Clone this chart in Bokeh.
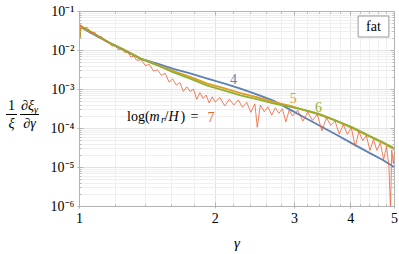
from bokeh.plotting import figure
from bokeh.layouts import row
from bokeh.models import FixedTicker, CustomJSTickFormatter, LogAxis, Label, Range1d, Div
from bokeh.embed import file_html
from bokeh.resources import INLINE

# ---------------- data ----------------
gamma_smooth = [1.0, 1.005, 1.06, 1.16, 1.25, 1.366, 1.5, 1.616, 1.76, 1.923, 2.1,
                2.276, 2.5, 2.692, 2.939, 3.15, 3.389, 3.7, 4.033, 4.42, 4.7, 5.0]
xi_4 = [2.0e-2, 4.0e-2, 2.8e-2, 1.6e-2, 1.05e-2, 6.2e-3, 4.5e-3, 3.4e-3, 2.6e-3, 1.9e-3, 1.41e-3,
        1.05e-3, 7.2e-4, 5.2e-4, 3.0e-4, 1.95e-4, 1.23e-4, 7.1e-5, 4.1e-5, 2.3e-5, 1.58e-5, 1.02e-5]
xi_5 = [2.0e-2, 4.3e-2, 3.0e-2, 1.62e-2, 1.07e-2, 6.2e-3, 4.1e-3, 2.95e-3, 2.1e-3, 1.41e-3, 1.07e-3,
        8.1e-4, 6.2e-4, 4.8e-4, 3.8e-4, 2.95e-4, 2.3e-4, 1.58e-4, 1.02e-4, 6.1e-5, 4.3e-5, 2.9e-5]
xi_6 = [2.0e-2, 4.0e-2, 3.0e-2, 1.62e-2, 1.07e-2, 6.2e-3, 4.0e-3, 2.75e-3, 1.9e-3, 1.26e-3, 9.4e-4,
        7.1e-4, 5.5e-4, 4.4e-4, 3.6e-4, 3.0e-4, 2.4e-4, 1.62e-4, 1.07e-4, 6.3e-5, 4.5e-5, 3.1e-5]

gamma_7 = [1.000, 1.005, 1.02, 1.04, 1.06, 1.08, 1.10, 1.12, 1.14, 1.16,
           1.18, 1.20, 1.22, 1.24, 1.26, 1.28, 1.30, 1.32, 1.34, 1.37,
           1.40, 1.43, 1.46, 1.49, 1.52, 1.55, 1.58, 1.61, 1.64, 1.67,
           1.70, 1.73, 1.76, 1.79, 1.82, 1.85, 1.88, 1.91, 1.94, 1.97,
           2.00, 2.05, 2.10, 2.15, 2.20, 2.25, 2.30, 2.35, 2.40, 2.45,
           2.48, 2.52, 2.57, 2.62, 2.67, 2.72, 2.77, 2.82, 2.87, 2.92,
           2.97, 3.05, 3.13, 3.21, 3.29, 3.37, 3.45, 3.53, 3.61, 3.69,
           3.77, 3.85, 3.93, 4.01, 4.09, 4.17, 4.25, 4.33, 4.41, 4.49,
           4.57, 4.65, 4.73, 4.80, 4.86, 4.90, 4.93, 4.97, 5.00]
xi_7 = [2.0e-2, 4.6e-2, 3.7e-2, 3.9e-2, 2.8e-2, 2.95e-2, 2.2e-2, 2.25e-2, 1.74e-2, 1.7e-2,
        1.3e-2, 1.35e-2, 1.04e-2, 1.12e-2, 8.9e-3, 9.2e-3, 6.8e-3, 7.2e-3, 5.6e-3, 5.8e-3,
        4.1e-3, 4.4e-3, 2.95e-3, 3.2e-3, 2.3e-3, 2.6e-3, 1.55e-3, 1.86e-3, 1.29e-3, 1.51e-3,
        8.9e-4, 1.17e-3, 8.9e-4, 1.02e-3, 5.6e-4, 8.3e-4, 5.9e-4, 7.2e-4, 4.5e-4, 6.5e-4,
        4.8e-4, 6.2e-4, 3.8e-4, 5.6e-4, 4.0e-4, 5.4e-4, 3.5e-4, 4.7e-4, 2.6e-4, 4.3e-4,
        1.07e-4, 4.0e-4, 2.7e-4, 3.6e-4, 2.2e-4, 3.4e-4, 2.45e-4, 3.2e-4, 1.48e-4, 3.0e-4,
        2.1e-4, 2.95e-4, 1.55e-4, 2.6e-4, 1.62e-4, 2.3e-4, 8.7e-5, 1.9e-4, 1.2e-4, 1.55e-4,
        7.2e-5, 1.26e-4, 7.1e-5, 1.05e-4, 3.5e-5, 8.3e-5, 4.9e-5, 6.6e-5, 2.75e-5, 5.2e-5,
        2.75e-5, 4.3e-5, 1.58e-5, 3.5e-5, 1.05e-5, 8e-7, 2.8e-5, 1.26e-5, 2.5e-5]

x_major = [1, 2, 3, 4, 5]
x_minor = [1.2, 1.4, 1.6, 1.8, 2.2, 2.4, 2.6, 2.8, 3.2, 3.4, 3.6, 3.8, 4.2, 4.4, 4.6, 4.8]
y_major = [1e-6, 1e-5, 1e-4, 1e-3, 1e-2, 1e-1]
y_minor = [k * d for d in [1e-6, 1e-5, 1e-4, 1e-3, 1e-2] for k in range(2, 10)]

series_labels = ["4", "5", "6", "7"]

# ---------------- style ----------------
BLUE, ORANGE, GREEN, RED = "#5E81B5", "#E19C24", "#8FB032", "#EB6235"
SERIF = "Liberation Serif"
FRAME = "#b3b3b3"
DIV_W = 42

p = figure(width=399 - DIV_W, height=254, x_axis_type="log", y_axis_type="log",
           x_range=Range1d(1, 5), y_range=Range1d(1e-6, 1e-1),
           output_backend="svg", toolbar_location=None,
           min_border_left=79 - DIV_W, min_border_right=5, min_border_top=11,
           min_border_bottom=48, margin=0)
p.outline_line_color = FRAME
p.background_fill_color = "white"
p.border_fill_color = "white"

p.line(gamma_smooth, xi_4, line_color=BLUE, line_width=1.8)
p.line(gamma_smooth, xi_5, line_color=ORANGE, line_width=1.8)
p.line(gamma_smooth, xi_6, line_color=GREEN, line_width=1.8)
p.line(gamma_7, xi_7, line_color=RED, line_width=1.0, line_alpha=0.8)

xt = FixedTicker(ticks=x_major, minor_ticks=x_minor)
yt = FixedTicker(ticks=y_major, minor_ticks=y_minor)
p.xaxis.ticker = xt
p.yaxis.ticker = yt
p.xgrid.ticker = xt
p.ygrid.ticker = yt
p.grid.grid_line_color = "#e3e3e3"
p.grid.minor_grid_line_color = "#efefef"

sup_code = """
const e = Math.round(Math.log10(tick));
const m = {"-":"\u207b","0":"\u2070","1":"\u00b9","2":"\u00b2","3":"\u00b3","4":"\u2074",
           "5":"\u2075","6":"\u2076","7":"\u2077","8":"\u2078","9":"\u2079"};
let s = "";
for (const c of String(e)) s += m[c];
return "10" + s;
"""
p.xaxis.formatter = CustomJSTickFormatter(code="return tick.toFixed(0);")
p.yaxis.formatter = CustomJSTickFormatter(code=sup_code)

for ax in (p.xaxis[0], p.yaxis[0]):
    ax.axis_line_color = FRAME
    ax.major_tick_line_color = FRAME
    ax.minor_tick_line_color = FRAME
    ax.major_tick_in = 4
    ax.major_tick_out = 2
    ax.minor_tick_in = 2
    ax.minor_tick_out = 0
    ax.major_label_text_font = SERIF
    ax.major_label_text_color = "black"
p.xaxis.major_label_text_font_size = "14px"
p.yaxis.major_label_text_font_size = "14px"
p.xaxis.major_label_standoff = 4
p.yaxis.major_label_standoff = 3
p.xaxis.axis_label = "γ"
p.xaxis.axis_label_text_font = SERIF
p.xaxis.axis_label_text_font_style = "italic"
p.xaxis.axis_label_text_font_size = "15px"
p.xaxis.axis_label_text_color = "black"
p.xaxis.axis_label_standoff = 9


def frame_axis(ticker):
    return LogAxis(ticker=ticker, formatter=CustomJSTickFormatter(code="return '';"),
                   major_label_text_font_size="0px", major_label_standoff=0,
                   major_tick_in=4, major_tick_out=0, minor_tick_in=2, minor_tick_out=0,
                   axis_line_color=None, major_tick_line_color=FRAME,
                   minor_tick_line_color=FRAME)


p.add_layout(frame_axis(xt), "above")
p.add_layout(frame_axis(yt), "right")


def lab(text, x, y, units="data", size="14px", color="black", style="normal",
        align="left", baseline="alphabetic", x_offset=0, y_offset=0, **kw):
    p.add_layout(Label(x=x, y=y, x_units=units, y_units=units, text=text,
                       text_font=SERIF, text_font_size=size, text_color=color,
                       text_font_style=style, text_align=align, text_baseline=baseline,
                       x_offset=x_offset, y_offset=y_offset, **kw))


# curve numbers
lab(series_labels[0], 2.197, 1.91e-3, color=BLUE, align="center", baseline="middle")
lab(series_labels[1], 2.98, 5.9e-4, color=ORANGE, align="center", baseline="middle")
lab(series_labels[2], 3.39, 3.5e-4, color=GREEN, align="center", baseline="middle")

# log(m_r/H) = 7
ax0, ay0 = 1.2746, 2.0e-4
lab("log(", ax0, ay0)
lab("m", ax0, ay0, style="italic", x_offset=22.5)
lab("r", ax0, ay0, style="italic", size="10px", x_offset=34.0, y_offset=-3)
lab("/", ax0, ay0, x_offset=37.5)
lab("H", ax0, ay0, style="italic", x_offset=41.5)
lab(")", ax0, ay0, x_offset=53.5)
lab("=", ax0, ay0, x_offset=63.5)
lab(series_labels[3], ax0, ay0, color=RED, x_offset=80.5)

# legend box (canvas coordinates of the figure)
lab("fat", 376 - DIV_W - 3, 26, units="canvas", align="center", baseline="middle",
    border_line_color="#999999", background_fill_color="white",
    padding=dict(left=8, right=8, top=3, bottom=3))

# y-axis label (1/xi) d xi_gamma / d gamma, as an HTML fraction
frac = ("display:inline-block;text-align:center;vertical-align:middle;")
ylabel_html = (
    "<div style=\"padding-top:98px;padding-left:6px;font-family:'Liberation Serif',serif;"
    "font-size:14px;color:#000;line-height:1.1;white-space:nowrap;\">"
    f"<span style=\"{frac}\">"
    "<span style=\"display:block;padding:0 2px 1px 2px;\">1</span>"
    "<span style=\"display:block;border-top:1px solid #000;padding:1px 2px 0 2px;"
    "font-style:italic;\">\u03be</span></span>"
    f"<span style=\"{frac}margin-left:3px;\">"
    "<span style=\"display:block;padding:0 1px 1px 1px;font-style:italic;\">\u2202\u03be"
    "<span style=\"font-size:10px;position:relative;top:3px;\">\u03b3</span></span>"
    "<span style=\"display:block;border-top:1px solid #000;padding:1px 1px 0 1px;"
    "font-style:italic;\">\u2202\u03b3</span></span></div>"
)
ylab = Div(text=ylabel_html, width=DIV_W, height=254, margin=0)

layout = row(ylab, p, spacing=0, margin=0)
open("out.html", "w").write(file_html(layout, INLINE))
